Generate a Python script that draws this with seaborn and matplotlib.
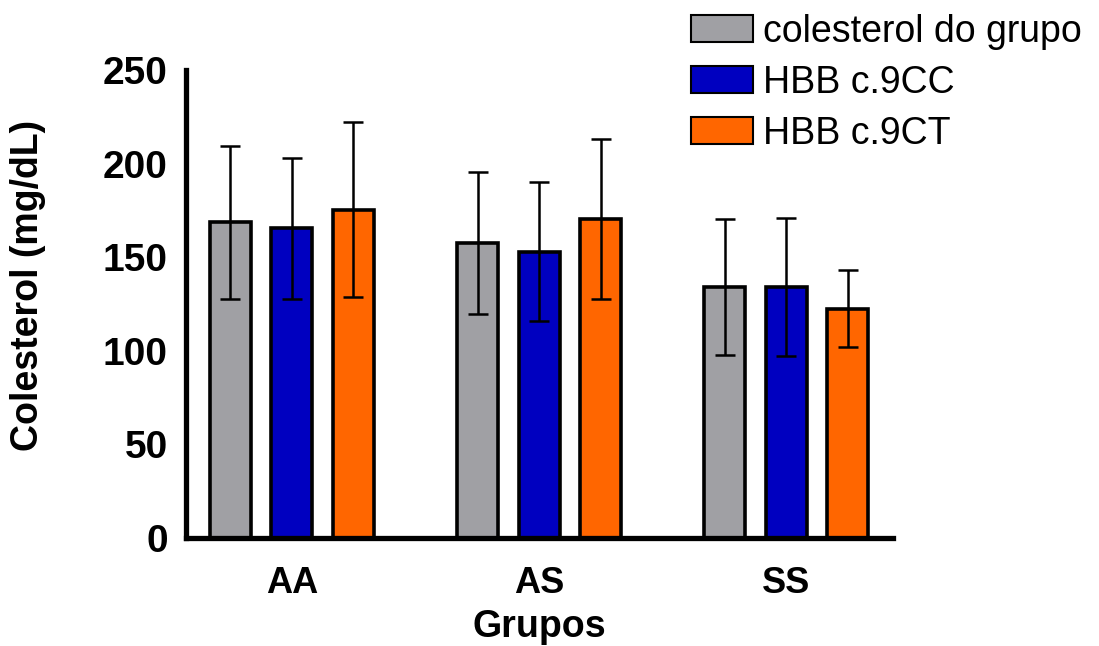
import matplotlib
matplotlib.use("Agg")
import matplotlib.pyplot as plt
import seaborn as sns
import pandas as pd

# values
groups = ["AA", "AS", "SS"]
series = ["colesterol do grupo", "HBB c.9CC", "HBB c.9CT"]
colors = ["#A0A0A4", "#0000C0", "#FF6600"]

mean_grupo = [168.6, 157.8, 134.2]
mean_cc = [165.5, 153.0, 134.2]
mean_ct = [175.5, 170.3, 122.5]

sd_grupo = [40.8, 38.0, 36.2]
sd_cc = [37.7, 37.0, 36.8]
sd_ct = [46.5, 42.6, 20.5]

df = pd.DataFrame({
    "grupo": groups * 3,
    "serie": [s for s in series for _ in groups],
    "colesterol": mean_grupo + mean_cc + mean_ct,
    "sd": sd_grupo + sd_cc + sd_ct,
})

sns.set_style("white", {"axes.edgecolor": "black", "text.color": "black",
                        "axes.labelcolor": "black", "xtick.color": "black",
                        "ytick.color": "black"})
plt.rcParams["font.family"] = ["Liberation Sans", "DejaVu Sans"]

fig = plt.figure(figsize=(10.99, 6.46), dpi=100)
ax = fig.add_axes([0.169, 0.167, 0.6436, 0.7246])

sns.barplot(data=df, x="grupo", y="colesterol", hue="serie",
            order=groups, hue_order=series, palette=colors, saturation=1,
            errorbar=None, width=0.747, gap=0.333,
            edgecolor="black", linewidth=2.6, ax=ax)

# error bars (mean +/- sd) at the bar centres
for cont, s in zip(ax.containers, series):
    sub = df[df["serie"] == s].set_index("grupo").loc[groups]
    xs = [p.get_x() + p.get_width() / 2 for p in cont.patches]
    ax.errorbar(xs, sub["colesterol"], yerr=sub["sd"], fmt="none",
                ecolor="black", elinewidth=1.8, capsize=7.5, capthick=1.8,
                zorder=3)

ax.set_ylim(0, 250)
ax.set_xlim(-0.43, 2.433)
ax.set_yticks([0, 50, 100, 150, 200, 250])

sns.despine(ax=ax)
for sp in ["left", "bottom"]:
    ax.spines[sp].set_linewidth(3.8)
    ax.spines[sp].set_color("black")
ax.tick_params(axis="y", length=10, width=3.8, pad=3, labelsize=28,
               colors="black")
ax.tick_params(axis="x", length=0, pad=20, labelsize=26, colors="black")
for lab in ax.get_xticklabels() + ax.get_yticklabels():
    lab.set_fontweight("bold")

ax.set_xlabel("Grupos", fontsize=27, fontweight="bold", labelpad=6)
ax.set_ylabel("Colesterol (mg/dL)", fontsize=27, fontweight="bold")
ax.yaxis.set_label_coords(-0.197, 0.54)

handles, labels = ax.get_legend_handles_labels()
for h in handles:
    h.set_edgecolor("black")
    h.set_linewidth(1.5)
ax.legend(handles, labels, loc="upper left", bbox_to_anchor=(0.612, 1.008),
          bbox_transform=fig.transFigure, frameon=False, fontsize=27,
          handlelength=1.65, handleheight=0.75, handletextpad=0.25,
          labelspacing=0.4, borderaxespad=0.1)

fig.savefig("out.png", dpi=100)
